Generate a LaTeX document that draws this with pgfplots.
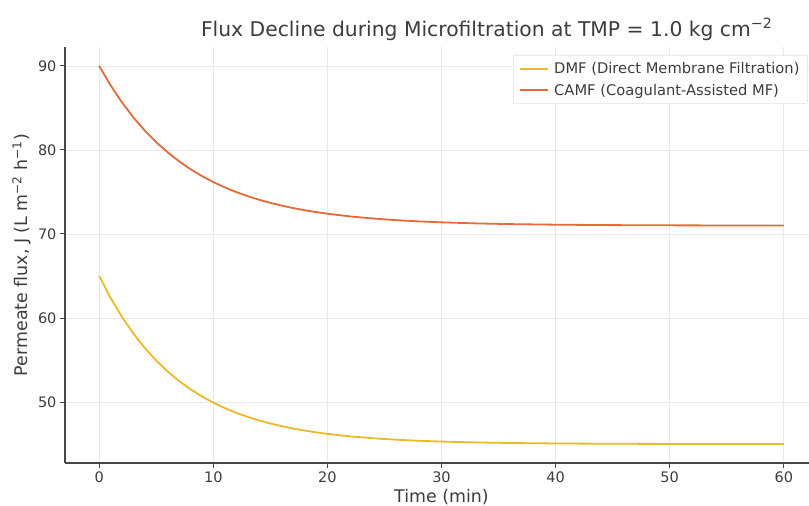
\documentclass[border=0pt]{standalone}
\usepackage{pgfplots}
\pgfplotsset{compat=1.18}
\usepackage{fontspec}
\setmainfont{DejaVu Sans}
\definecolor{dmf}{RGB}{234,186,40}
\definecolor{camf}{RGB}{228,106,58}
\definecolor{txt}{RGB}{60,60,60}
\begin{document}
\begin{tikzpicture}
\begin{axis}[
  at={(65pt,43pt)}, anchor=south west,
  scale only axis, width=753pt, height=416pt,
  xmin=-3, xmax=63, ymin=42.75, ymax=92.25,
  axis x line=bottom, axis y line=left,
  axis line style={-, color=black!72, line width=1.3pt},
  xtick={0,10,...,60}, ytick={50,60,...,90},
  tick style={color=black!72, line width=1pt},
  tick align=outside, major tick length=5pt,
  grid=major, major grid style={color=black!9, line width=0.8pt},
  ticklabel style={font=\fontsize{14.5}{17}\selectfont, color=txt},
  /pgf/number format/assume math mode=true,
  xlabel={Time (min)},
  ylabel={Permeate flux, J (L m\textsuperscript{−2} h\textsuperscript{−1})},
  label style={font=\fontsize{17.4}{20}\selectfont, color=txt},
  title={Flux Decline during Microfiltration at TMP = 1.0 kg cm\textsuperscript{−2}},
  title style={at={(0.56,1)}, font=\fontsize{20.3}{24}\selectfont, color=txt, yshift=-3pt},
  legend style={at={(0.595,1)}, yshift=-8pt, anchor=north west,
    draw=black!20, rounded corners=2pt, fill=white,
    font=\fontsize{14.7}{17}\selectfont, text=txt,
    inner xsep=6pt, inner ysep=5pt, row sep=5pt, column sep=3pt},
  legend cell align=left,
  legend image code/.code={\draw[#1, line width=2pt] (0pt,0pt) -- (28pt,0pt);},
]
\addplot[color=dmf, line width=1.8pt] coordinates {
(0,65.000) (1,62.387) (2,60.116) (3,58.141) (4,56.424) (5,54.932)
(6,53.634) (7,52.506) (8,51.526) (9,50.673) (10,49.932) (11,49.288)
(12,48.727) (13,48.241) (14,47.817) (15,47.449) (16,47.129) (17,46.851)
(18,46.609) (19,46.399) (20,46.216) (22,45.919) (24,45.695) (26,45.525)
(28,45.397) (30,45.300) (33,45.197) (36,45.129) (40,45.074) (45,45.037)
(50,45.018) (55,45.009) (60,45.004)
};
\addlegendentry{DMF (Direct Membrane Filtration)}
\addplot[color=camf, line width=1.8pt] coordinates {
(0,90.000) (1,87.684) (2,85.650) (3,83.864) (4,82.296) (5,80.919)
(6,79.710) (7,78.648) (8,77.716) (9,76.897) (10,76.178) (11,75.547)
(12,74.993) (13,74.506) (14,74.078) (15,73.703) (16,73.374) (17,73.084)
(18,72.830) (19,72.607) (20,72.411) (22,72.088) (24,71.839) (26,71.647)
(28,71.499) (30,71.385) (33,71.260) (36,71.176) (40,71.105) (45,71.055)
(50,71.029) (55,71.015) (60,71.008)
};
\addlegendentry{CAMF (Coagulant-Assisted MF)}
\end{axis}
\pgfresetboundingbox
\path[use as bounding box] (0pt,0pt) rectangle (809pt,506pt);
\end{tikzpicture}
\end{document}
